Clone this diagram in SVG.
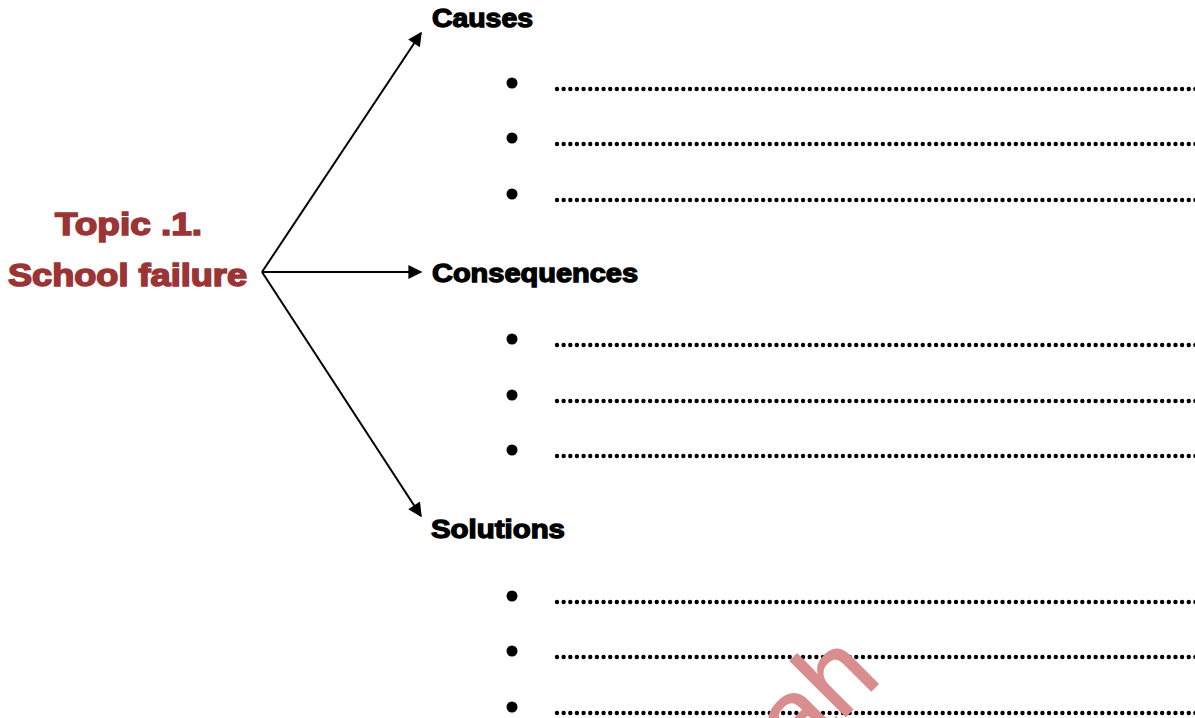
<svg xmlns="http://www.w3.org/2000/svg" width="1195" height="718" viewBox="0 0 1195 718">
  <style>
    .topic { font-family: "Liberation Sans", Arial, sans-serif; font-weight: bold; font-size: 32px; fill: #9b3434; stroke: #9b3434; stroke-width: 1.6px; }
    .head { font-family: "Liberation Sans", Arial, sans-serif; font-weight: bold; font-size: 25.5px; fill: #000; stroke: #000; stroke-width: 1.3px; }
    .bullet { fill: #000; }
    .dots { stroke: #000; stroke-width: 4.4; stroke-linecap: round; stroke-dasharray: 0 6.65; fill: none; }
    .conn { stroke: #000; stroke-width: 2; fill: none; }
    .mark { font-family: "Liberation Sans", Arial, sans-serif; font-size: 108px; fill: #d98d8d; stroke: #d98d8d; stroke-width: 1.5px; }
  </style>
  <defs>
    <marker id="arrow" viewBox="0 0 10 10" refX="9" refY="5" markerWidth="8.5" markerHeight="7" markerUnits="strokeWidth" orient="auto">
      <path d="M0,0 L10,5 L0,10 z" fill="#000"/>
    </marker>
  </defs>

  <rect width="1195" height="718" fill="#fff"/>

  <!-- central topic -->
  <g id="topic">
    <text class="topic" x="55" y="235" textLength="147" lengthAdjust="spacingAndGlyphs">Topic .1.</text>
    <text class="topic" x="8" y="286" textLength="239" lengthAdjust="spacingAndGlyphs">School failure</text>
  </g>

  <!-- branches -->
  <g id="connectors">
    <line class="conn" x1="262" y1="272" x2="421" y2="33" marker-end="url(#arrow)"/>
    <line class="conn" x1="262" y1="272" x2="421" y2="272" marker-end="url(#arrow)"/>
    <line class="conn" x1="262" y1="272" x2="421" y2="516" marker-end="url(#arrow)"/>
  </g>

  <g id="causes">
    <text class="head" x="432" y="27" textLength="101" lengthAdjust="spacingAndGlyphs">Causes</text>
    <circle class="bullet" cx="512" cy="83" r="5.5"/>
    <circle class="bullet" cx="512" cy="138" r="5.5"/>
    <circle class="bullet" cx="512" cy="194" r="5.5"/>
    <line class="dots" x1="557" y1="89" x2="1200" y2="89"/>
    <line class="dots" x1="557" y1="144" x2="1200" y2="144"/>
    <line class="dots" x1="557" y1="200" x2="1200" y2="200"/>
  </g>

  <g id="consequences">
    <text class="head" x="432" y="282" textLength="206" lengthAdjust="spacingAndGlyphs">Consequences</text>
    <circle class="bullet" cx="512" cy="339" r="5.5"/>
    <circle class="bullet" cx="512" cy="395" r="5.5"/>
    <circle class="bullet" cx="512" cy="450" r="5.5"/>
    <line class="dots" x1="557" y1="345" x2="1200" y2="345"/>
    <line class="dots" x1="557" y1="401" x2="1200" y2="401"/>
    <line class="dots" x1="557" y1="456" x2="1200" y2="456"/>
  </g>

  <g id="solutions">
    <text class="head" x="431" y="538" textLength="134" lengthAdjust="spacingAndGlyphs">Solutions</text>
    <circle class="bullet" cx="512" cy="596" r="5.5"/>
    <circle class="bullet" cx="512" cy="651" r="5.5"/>
    <circle class="bullet" cx="512" cy="707" r="5.5"/>
    <line class="dots" x1="557" y1="602" x2="1200" y2="602"/>
    <line class="dots" x1="557" y1="657" x2="1200" y2="657"/>
    <line class="dots" x1="557" y1="713" x2="1200" y2="713"/>
  </g>

  <!-- watermark -->
  <text class="mark" transform="translate(798 764) rotate(-45)" x="0" y="0">ah</text>
</svg>
